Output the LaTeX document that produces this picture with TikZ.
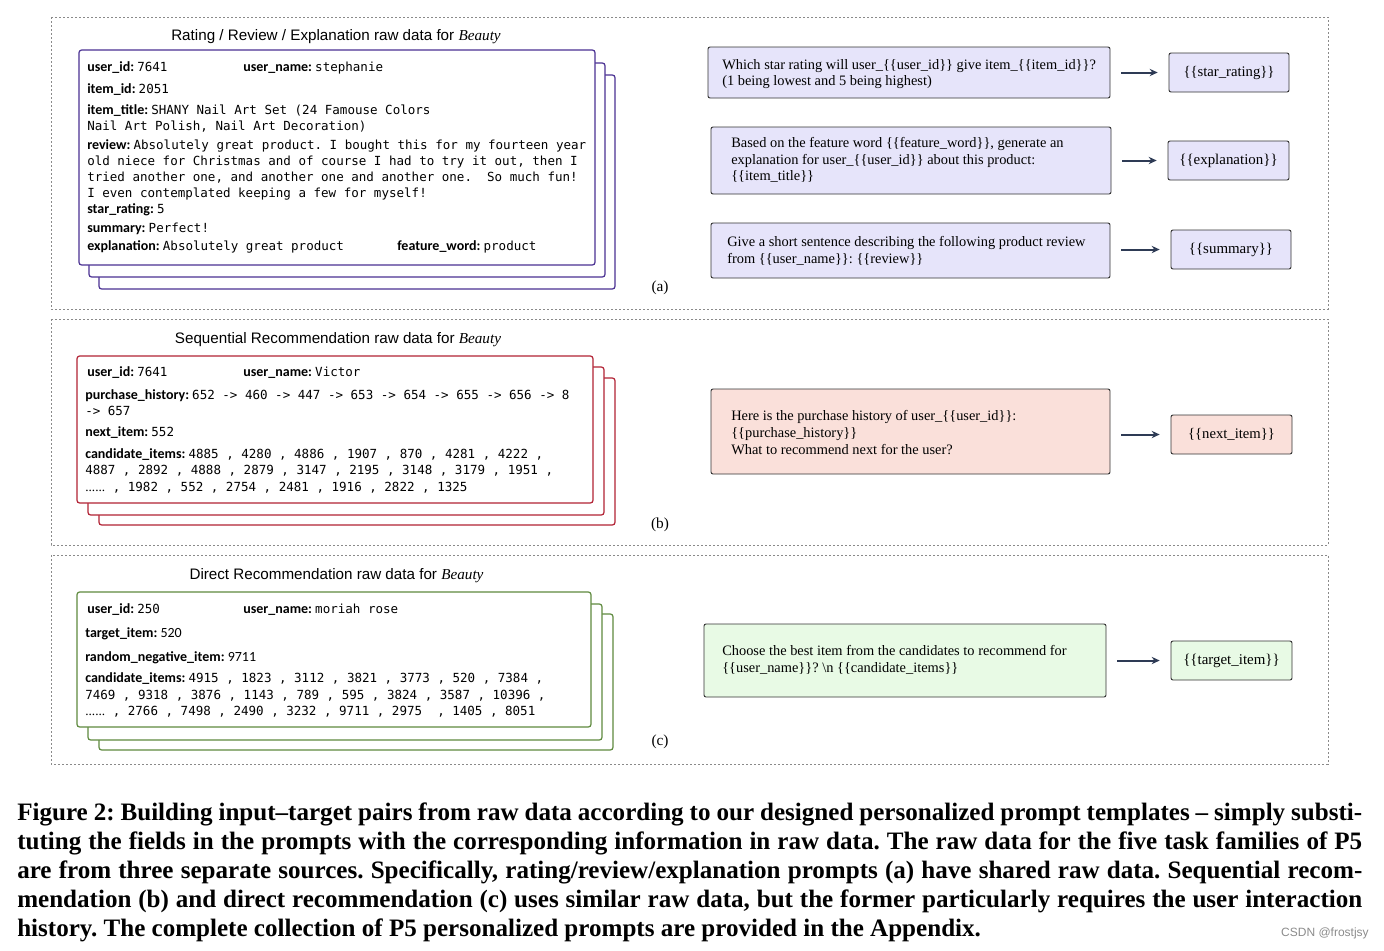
\documentclass[tikz,border=0pt]{standalone}
\usepackage{fontspec}
\setmainfont{Liberation Serif}
\newfontfamily\titlefont{Liberation Sans}
\newfontfamily\keyfont{Carlito}
\newfontfamily\monofont{DejaVu Sans Mono}
\usetikzlibrary{arrows.meta}
\definecolor{cpurple}{HTML}{4A3192}
\definecolor{cred}{HTML}{B22234}
\definecolor{cgreen}{HTML}{5E8A3E}
\definecolor{fpurple}{HTML}{E6E4FA}
\definecolor{fred}{HTML}{FAE0DA}
\definecolor{fgreen}{HTML}{E8FAE5}
\definecolor{arrowc}{HTML}{2E3B55}
\definecolor{framec}{HTML}{8A8A8A}
\newcommand\K[1]{{\keyfont\bfseries\fontsize{10.5}{12}\selectfont #1}}
\newcommand\KR[1]{{\keyfont\fontsize{10.5}{12}\selectfont #1}}
\newcommand\M[1]{{\monofont #1}}
\newcommand\DOTS{{\rmfamily\fontsize{10}{12}\selectfont ......}}
\newcommand\CL[1]{\makebox[1008.75pt][s]{#1}}
\frenchspacing
\begin{document}
\begin{tikzpicture}[x=0.75pt,y=-0.75pt,
  frame/.style={draw=framec,line width=0.6pt,dash pattern=on 1.5pt off 1.5pt},
  card/.style={fill=white,line width=0.9pt,rounded corners=2pt},
  txt/.style={anchor=base west,inner sep=0pt,font=\fontsize{9.4}{11}\selectfont},
  ptxt/.style={anchor=base west,inner sep=0pt,font=\fontsize{10.8}{12}\selectfont},
  title/.style={inner sep=0pt,font=\titlefont\fontsize{11.4}{13}\selectfont},
  pbox/.style={draw=black!80,line width=0.7pt,rounded corners=1.5pt,inner sep=0pt,outer sep=0pt},
  tbox/.style={draw=black!80,line width=0.7pt,rounded corners=1.5pt,inner sep=0pt,outer sep=0pt,minimum height=29.25pt},
  arr/.style={draw=arrowc,line width=1.5pt,-{Stealth[length=6pt,width=5.5pt]},shorten <=8.5pt,shorten >=8.5pt},
  plabel/.style={inner sep=0pt,font=\fontsize{11.5}{13}\selectfont},
  captext/.style={anchor=base west,inner sep=0pt,font=\bfseries\fontsize{18.8}{22}\selectfont}]
\useasboundingbox (0,0) rectangle (1384,950);
\fill[white] (0,0) rectangle (1384,950);
% frames
\draw[frame] (51,17) rectangle (1328,309);
\draw[frame] (51,319) rectangle (1328,545);
\draw[frame] (51,555) rectangle (1328,764);
% ---------------- (a)
\node[title] (ta) at (336,37) {Rating / Review / Explanation raw data for {\rmfamily\itshape Beauty}};
\draw[card,draw=cpurple] (99,75) rectangle (615,289);
\draw[card,draw=cpurple] (89,63) rectangle (605,277);
\draw[card,draw=cpurple] (79,50) rectangle (595,265);
\node[txt] (a1) at (87,71.5) {\K{user\_id:} \M{7641}};
\node[txt] (a1b) at (243,71.5) {\K{user\_name:} \M{stephanie}};
\node[txt] (a2) at (87,93.5) {\K{item\_id:} \M{2051}};
\node[txt] (a3) at (87,114.5) {\K{item\_title:} \M{SHANY Nail Art Set (24 Famouse Colors}};
\node[txt] (a4) at (87,130.5) {\M{Nail Art Polish, Nail Art Decoration)}};
\node[txt] (a5) at (87,149.5) {\K{review:} \M{Absolutely great product. I bought this for my fourteen year}};
\node[txt] (a6) at (87,165.5) {\M{old niece for Christmas and of course I had to try it out, then I}};
\node[txt] (a7) at (87,181.5) {\M{tried another one, and another one and another one.\ \ So much fun!}};
\node[txt] (a8) at (87,197.5) {\M{I even contemplated keeping a few for myself!}};
\node[txt] (a9) at (87,213.5) {\K{star\_rating:} \M{5}};
\node[txt] (a10) at (87,232.5) {\K{summary:} \M{Perfect!}};
\node[txt] (a11) at (87,250.5) {\K{explanation:} \M{Absolutely great product}};
\node[txt] (a11b) at (397,250.5) {\K{feature\_word:} \M{product}};
% prompts a
\node[pbox,fill=fpurple,minimum width=301.5pt,minimum height=38.25pt] (pa1) at (909,72.5) {};
\node[ptxt] (pa1t1) at (722,69.5) {Which star rating will user\_\{\{user\_id\}\} give item\_\{\{item\_id\}\}?};
\node[ptxt] (pa1t2) at (722,85.5) {(1 being lowest and 5 being highest)};
\node[tbox,fill=fpurple,minimum width=90pt,font=\fontsize{11}{12}\selectfont] (ta1) at (1229,72.5) {\{\{star\_rating\}\}};
\draw[arr] (pa1.east |- ta1.west) -- (ta1.west);
\node[pbox,fill=fpurple,minimum width=300pt,minimum height=50.25pt] (pa2) at (911,160.5) {};
\node[ptxt] (pa2t1) at (731,147.5) {Based on the feature word \{\{feature\_word\}\}, generate an};
\node[ptxt] (pa2t2) at (731,164.5) {explanation for user\_\{\{user\_id\}\} about this product:};
\node[ptxt] (pa2t3) at (731,180.5) {\{\{item\_title\}\}};
\node[tbox,fill=fpurple,minimum width=90.75pt,font=\fontsize{11.2}{12}\selectfont] (ta2) at (1228.5,160.5) {\{\{explanation\}\}};
\draw[arr] (pa2.east |- ta2.west) -- (ta2.west);
\node[pbox,fill=fpurple,minimum width=299.25pt,minimum height=41.25pt] (pa3) at (910.5,250.5) {};
\node[ptxt] (pa3t1) at (727,246.5) {Give a short sentence describing the following product review};
\node[ptxt] (pa3t2) at (727,263.5) {from \{\{user\_name\}\}: \{\{review\}\}};
\node[tbox,fill=fpurple,minimum width=90pt,font=\fontsize{11.2}{12}\selectfont] (ta3) at (1231,249.5) {\{\{summary\}\}};
\draw[arr] (pa3.east |- ta3.west) -- (ta3.west);
\node[plabel] (la) at (660,288) {(a)};
% ---------------- (b)
\node[title] (tb0) at (338,340) {Sequential Recommendation raw data for {\rmfamily\itshape Beauty}};
\draw[card,draw=cred] (99,378) rectangle (615,525);
\draw[card,draw=cred] (88,367) rectangle (604,515);
\draw[card,draw=cred] (77,356) rectangle (593,503);
\node[txt] (b1) at (87,376.5) {\K{user\_id:} \M{7641}};
\node[txt] (b1b) at (243,376.5) {\K{user\_name:} \M{Victor}};
\node[txt] (b2) at (85,399.5) {\K{purchase\_history:} \M{652 -> 460 -> 447 -> 653 -> 654 -> 655 -> 656 -> 8}};
\node[txt] (b3) at (85,415.5) {\M{-> 657}};
\node[txt] (b4) at (85,436.5) {\K{next\_item:} \M{552}};
\node[txt] (b5) at (85,458.5) {\K{candidate\_items:} \M{4885 , 4280 , 4886 , 1907 , 870 , 4281 , 4222 ,}};
\node[txt] (b6) at (85,474.5) {\M{4887 , 2892 , 4888 , 2879 , 3147 , 2195 , 3148 , 3179 , 1951 ,}};
\node[txt] (b7) at (85,491.5) {\DOTS\M{ , 1982 , 552 , 2754 , 2481 , 1916 , 2822 , 1325}};
\node[pbox,fill=fred,minimum width=299.25pt,minimum height=63.75pt] (pb) at (910.5,431.5) {};
\node[ptxt] (pbt1) at (731,420.5) {Here is the purchase history of user\_\{\{user\_id\}\}:};
\node[ptxt] (pbt2) at (731,437.5) {\{\{purchase\_history\}\}};
\node[ptxt] (pbt3) at (731,454.5) {What to recommend next for the user?};
\node[tbox,fill=fred,minimum width=90.75pt,font=\fontsize{11}{12}\selectfont] (tbx) at (1231.5,434.5) {\{\{next\_item\}\}};
\draw[arr] (pb.east |- tbx.west) -- (tbx.west);
\node[plabel] (lb) at (660,525) {(b)};
% ---------------- (c)
\node[title] (tc0) at (336.5,576) {Direct Recommendation raw data for {\rmfamily\itshape Beauty}};
\draw[card,draw=cgreen] (99,614) rectangle (613,750);
\draw[card,draw=cgreen] (88,604) rectangle (602,740);
\draw[card,draw=cgreen] (77,592) rectangle (591,727);
\node[txt] (c1) at (87,613.5) {\K{user\_id:} \M{250}};
\node[txt] (c1b) at (243,613.5) {\K{user\_name:} \M{moriah rose}};
\node[txt] (c2) at (85,637.5) {\K{target\_item:} \KR{520}};
\node[txt] (c3) at (85,661.5) {\K{random\_negative\_item:} \KR{9711}};
\node[txt] (c4) at (85,682.5) {\K{candidate\_items:} \M{4915 , 1823 , 3112 , 3821 , 3773 , 520 , 7384 ,}};
\node[txt] (c5) at (85,699.5) {\M{7469 , 9318 , 3876 , 1143 , 789 , 595 , 3824 , 3587 , 10396 ,}};
\node[txt] (c6) at (85,715.5) {\DOTS\M{ , 2766 , 7498 , 2490 , 3232 , 9711 , 2975\ \ , 1405 , 8051}};
\node[pbox,fill=fgreen,minimum width=301.5pt,minimum height=54.75pt] (pc) at (905,660.5) {};
\node[ptxt] (pct1) at (722,655.5) {Choose the best item from the candidates to recommend for};
\node[ptxt] (pct2) at (722,672.5) {\{\{user\_name\}\}? \textbackslash n \{\{candidate\_items\}\}};
\node[tbox,fill=fgreen,minimum width=90.75pt,font=\fontsize{11.2}{12}\selectfont] (tcx) at (1231.5,660.5) {\{\{target\_item\}\}};
\draw[arr] (pc.east |- tcx.west) -- (tcx.west);
\node[plabel] (lc) at (660,742) {(c)};
% ---------------- caption
\node[captext] (cap1) at (17,820) {\CL{Figure 2: Building input–target pairs from raw data according to our designed personalized prompt templates – simply substi-}};
\node[captext] (cap2) at (17,849) {\CL{tuting the fields in the prompts with the corresponding information in raw data. The raw data for the five task families of P5}};
\node[captext] (cap3) at (17,878) {\CL{are from three separate sources. Specifically, rating/review/explanation prompts (a) have shared raw data. Sequential recom-}};
\node[captext] (cap4) at (17,907) {\CL{mendation (b) and direct recommendation (c) uses similar raw data, but the former particularly requires the user interaction}};
\node[captext] (cap5) at (17,936) {history. The complete collection of P5 personalized prompts are provided in the Appendix.};
\node[anchor=east,inner sep=0pt,text=black!45,font=\titlefont\fontsize{9}{10}\selectfont] (wm) at (1369,933) {CSDN @frostjsy};
\end{tikzpicture}
\end{document}
